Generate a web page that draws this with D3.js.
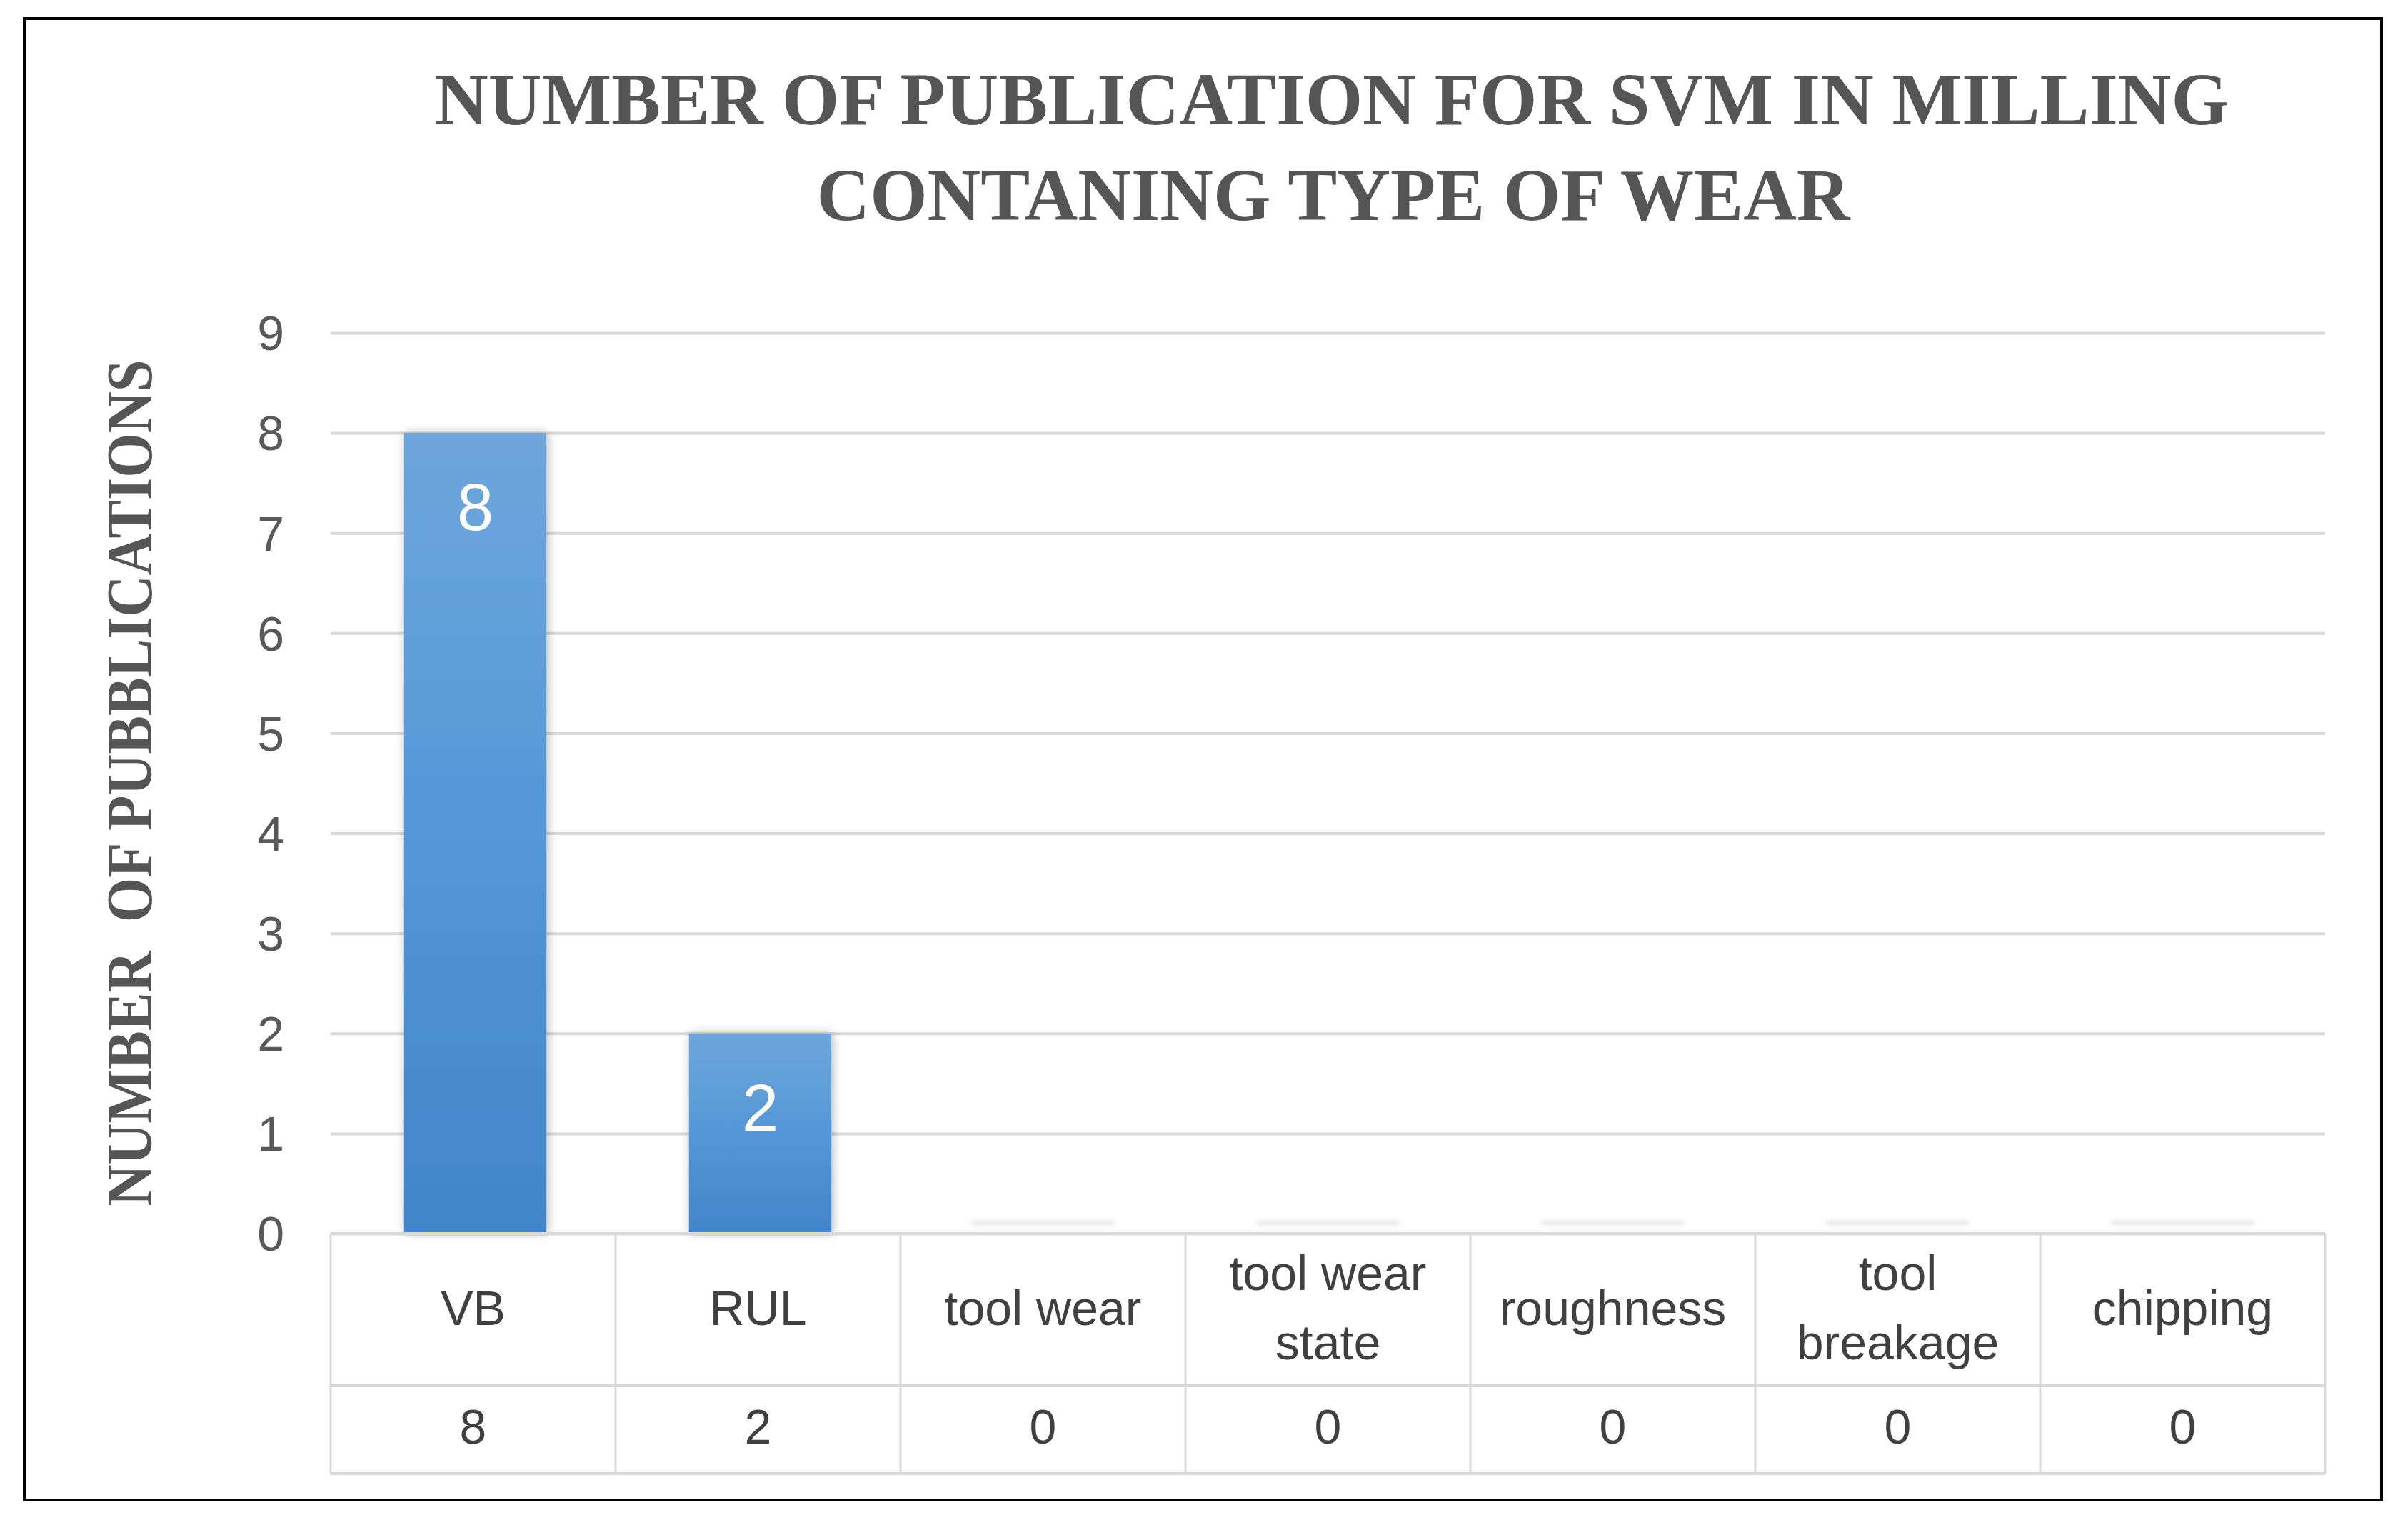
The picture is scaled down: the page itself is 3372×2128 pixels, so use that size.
<!DOCTYPE html>
<html>
<head>
<meta charset="utf-8">
<script src="https://cdn.jsdelivr.net/npm/d3@7"></script>
<style>
  html, body { margin: 0; padding: 0; background: #ffffff; }
  svg { display: block; }
  .pre { white-space: pre; }
</style>
</head>
<body>
<script>
// ---- data ----
const categories = ["VB", "RUL", "tool wear", "tool wear state", "roughness", "tool breakage", "chipping"];
const categoryLines = [["VB"], ["RUL"], ["tool wear"], ["tool wear", "state"], ["roughness"], ["tool", "breakage"], ["chipping"]];
const values = [8, 2, 0, 0, 0, 0, 0];
const yTicks = [0, 1, 2, 3, 4, 5, 6, 7, 8, 9];
const titleLines = ["NUMBER OF PUBLICATION FOR SVM IN MILLING", "CONTANING TYPE OF WEAR"];
const yTitle = "NUMBER  OF PUBBLICATIONS";

// ---- layout ----
const W = 3372, H = 2128;
const plot = { left: 463, right: 3256, top: 466, bottom: 1727 };
const tableRow1 = 1940, tableBottom = 2063;

const svg = d3.select("body").append("svg")
  .attr("width", W).attr("height", H);

svg.append("rect").attr("width", W).attr("height", H).attr("fill", "#ffffff");

const defs = svg.append("defs");
const grad = defs.append("linearGradient").attr("id", "barGrad")
  .attr("x1", 0).attr("y1", 0).attr("x2", 0).attr("y2", 1);
grad.append("stop").attr("offset", "0%").attr("stop-color", "#6ea6db");
grad.append("stop").attr("offset", "45%").attr("stop-color", "#5699d8");
grad.append("stop").attr("offset", "100%").attr("stop-color", "#4085c8");

const shadow = defs.append("filter").attr("id", "shadow")
  .attr("x", "-20%").attr("y", "-20%").attr("width", "140%").attr("height", "140%");
shadow.append("feDropShadow").attr("dx", 2).attr("dy", 0).attr("stdDeviation", 7)
  .attr("flood-color", "#000000").attr("flood-opacity", 0.28);

const blur = defs.append("filter").attr("id", "blur")
  .attr("x", "-20%").attr("y", "-200%").attr("width", "140%").attr("height", "500%");
blur.append("feGaussianBlur").attr("stdDeviation", 3);

// outer frame
svg.append("rect")
  .attr("x", 34).attr("y", 26).attr("width", 3301).attr("height", 2074)
  .attr("fill", "none").attr("stroke", "#000000").attr("stroke-width", 4);

// scales
const x = d3.scaleBand().domain(categories).range([plot.left, plot.right]).paddingInner(0).paddingOuter(0);
const y = d3.scaleLinear().domain([0, 9]).range([plot.bottom, plot.top]);

// gridlines via axis
const gridAxis = d3.axisLeft(y).tickValues(yTicks).tickSize(-(plot.right - plot.left)).tickFormat("");
const grid = svg.append("g").attr("transform", `translate(${plot.left},0)`).call(gridAxis);
grid.select(".domain").remove();
grid.selectAll(".tick line").attr("stroke", "#d9d9d9").attr("stroke-width", 4);

// y tick labels via axis
const yAxis = d3.axisLeft(y).tickValues(yTicks).tickSize(0).tickPadding(0);
const ya = svg.append("g").attr("transform", `translate(398,0)`).call(yAxis);
ya.select(".domain").remove();
ya.selectAll(".tick text")
  .attr("font-family", "'Liberation Sans', Arial, sans-serif")
  .attr("font-size", 68).attr("fill", "#595959").attr("dy", "0.35em")
  .attr("text-anchor", "end");

// zero-bar shadow ghosts
const bw = x.bandwidth() * 0.5;
svg.append("g").selectAll("rect.ghost")
  .data(categories.map((c, i) => ({ c, v: values[i] })).filter(d => d.v === 0))
  .join("rect")
  .attr("x", d => x(d.c) + (x.bandwidth() - bw) / 2)
  .attr("y", y(0) - 18).attr("width", bw).attr("height", 6)
  .attr("fill", "#e4e4e4").attr("filter", "url(#blur)");

// bars
const barData = categories.map((c, i) => ({ c, v: values[i] })).filter(d => d.v > 0);
svg.append("g").selectAll("rect.bar")
  .data(barData)
  .join("rect")
  .attr("class", "bar")
  .attr("x", d => x(d.c) + (x.bandwidth() - bw) / 2 + 3)
  .attr("y", d => y(d.v))
  .attr("width", bw)
  .attr("height", d => y(0) - y(d.v))
  .attr("fill", "url(#barGrad)")
  .attr("filter", "url(#shadow)");

// bar labels
svg.append("g").selectAll("text.lbl")
  .data(barData)
  .join("text")
  .attr("x", d => x(d.c) + x.bandwidth() / 2 + 3)
  .attr("y", d => y(d.v) + 104)
  .attr("text-anchor", "middle").attr("dominant-baseline", "central")
  .attr("font-family", "'Liberation Sans', Arial, sans-serif")
  .attr("font-size", 92).attr("fill", "#ffffff")
  .text(d => d.v);

// data table
const tbl = svg.append("g");
const lineStyle = s => s.attr("stroke", "#d9d9d9").attr("stroke-width", 4);
lineStyle(tbl.append("line").attr("x1", plot.left).attr("x2", plot.right).attr("y1", plot.bottom).attr("y2", plot.bottom));
lineStyle(tbl.append("line").attr("x1", plot.left).attr("x2", plot.right).attr("y1", tableRow1).attr("y2", tableRow1));
lineStyle(tbl.append("line").attr("x1", plot.left).attr("x2", plot.right).attr("y1", tableBottom).attr("y2", tableBottom));
const bounds = categories.map(c => x(c)).concat([plot.right]);
tbl.selectAll("line.v").data(bounds).join("line")
  .attr("x1", d => d).attr("x2", d => d)
  .attr("y1", plot.bottom).attr("y2", tableBottom)
  .attr("stroke", "#d9d9d9").attr("stroke-width", 3);

const catMid = (plot.bottom + tableRow1) / 2 - 3;
const lineGap = 97;
const catG = tbl.selectAll("text.cat").data(categories.map((c, i) => ({ c, lines: categoryLines[i] })))
  .join("text")
  .attr("text-anchor", "middle")
  .attr("font-family", "'Liberation Sans', Arial, sans-serif")
  .attr("font-size", 68).attr("fill", "#404040");
catG.each(function(d) {
  const n = d.lines.length;
  d3.select(this).selectAll("tspan").data(d.lines).join("tspan")
    .attr("x", x(d.c) + x.bandwidth() / 2)
    .attr("y", (t, j) => catMid + (j - (n - 1) / 2) * lineGap)
    .attr("dominant-baseline", "central")
    .text(t => t);
});

tbl.selectAll("text.val").data(categories.map((c, i) => ({ c, v: values[i] })))
  .join("text")
  .attr("x", d => x(d.c) + x.bandwidth() / 2)
  .attr("y", (tableRow1 + tableBottom) / 2 - 5)
  .attr("text-anchor", "middle").attr("dominant-baseline", "central")
  .attr("font-family", "'Liberation Sans', Arial, sans-serif")
  .attr("font-size", 68).attr("fill", "#404040")
  .text(d => d.v);

// title
const titleSpec = [
  { t: titleLines[0], cx: 1865, base: 174, w: 2512 },
  { t: titleLines[1], cx: 1867, base: 308, w: 1447 }
];
svg.append("g").selectAll("text.title").data(titleSpec).join("text")
  .attr("x", d => d.cx).attr("y", d => d.base)
  .attr("text-anchor", "middle")
  .attr("font-family", "'Liberation Serif', 'DejaVu Serif', serif")
  .attr("font-weight", "bold")
  .attr("font-size", 104).attr("fill", "#555555")
  .attr("textLength", d => d.w).attr("lengthAdjust", "spacingAndGlyphs")
  .text(d => d.t);

// y axis title
svg.append("text")
  .attr("class", "pre")
  .attr("transform", "translate(212,1096) rotate(-90)")
  .attr("text-anchor", "middle")
  .attr("font-family", "'Liberation Serif', 'DejaVu Serif', serif")
  .attr("font-weight", "bold")
  .attr("font-size", 90).attr("fill", "#555555")
  .attr("textLength", 1185).attr("lengthAdjust", "spacingAndGlyphs")
  .text(yTitle);
</script>
</body>
</html>
